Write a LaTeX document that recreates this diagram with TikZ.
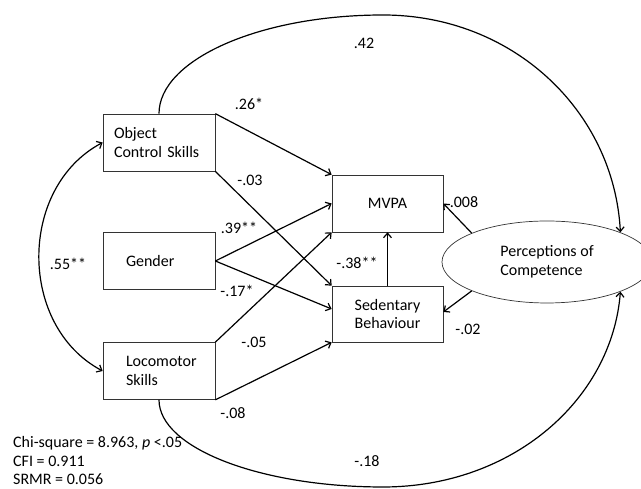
\documentclass[tikz,border=0pt]{standalone}
\usepackage{fontspec}
\setmainfont{Carlito}
\usetikzlibrary{arrows.meta,shapes.geometric}

\begin{document}
\begin{tikzpicture}
  [x=1pt,y=1pt,>={Straight Barb[length=4.5pt,width=8pt]},
   every node/.style={font=\fontsize{16}{18.5}\selectfont},
   box/.style={draw=black!80,line width=.7pt,minimum width=112pt,minimum height=57pt,inner sep=0pt},
   oval/.style={ellipse,draw=black!80,line width=.7pt,minimum width=210pt,minimum height=82pt,inner sep=0pt},
   lbl/.style={inner sep=0pt},
   link/.style={->,line width=1.2pt}]
  \useasboundingbox (0,0) rectangle (641,489);
  % boxes
  \node[box,text width=90pt,inner xsep=11pt,align=left] (ocs) at (159,346.5) {Object\\Control Skills};
  \node[box,text width=66pt,inner xsep=23pt,align=left] (gen) at (159,228) {Gender};
  \node[box,text width=66pt,inner xsep=23pt,align=left] (loc) at (159,118) {Locomotor\\Skills};
  \node[box,minimum width=111pt,align=center] (mvpa) at (387.5,285.5) {MVPA};
  \node[box,minimum width=111pt,minimum height=56pt,align=center] (sed) at (387.5,175) {Sedentary\\Behaviour};
  \node[oval,align=left] (perc) at (547,227) {Perceptions of\\Competence};
  % paths
  \foreach \from/\to in {ocs.north east/mvpa.north west,ocs.south east/sed.north west,gen.east/mvpa.west,loc.north east/mvpa.south west,loc.south east/sed.south west,sed.north/mvpa.south}
    \draw[link] (\from) -- (\to);
  \draw[link] (gen.east) -- ([yshift=5pt]sed.west);
  \draw[link] (perc.159) -- (mvpa.east);
  \draw[link] (perc.201) -- ([yshift=2pt]sed.east);
  \draw[link] (ocs.north) .. controls (159,429) and (259,474) .. (383,474)
    .. controls (513,474) and (614,378) .. (perc.22);
  \draw[link] (loc.south) .. controls (159,41) and (260,2) .. (383,2)
    .. controls (513,2) and (612,90) .. (perc.-22);
  \draw[link,<->] (ocs.west) .. controls (18,301.5) and (18,163) .. (loc.west);
  % coefficients
  \node[lbl] (l42) at (364,446) {.42};
  \node[lbl] (l26) at (249,385) {.26*};
  \node[lbl] (l03) at (250,309) {-.03};
  \node[lbl] (l39) at (239,261) {.39**};
  \node[lbl] (l17) at (237,198) {-.17*};
  \node[lbl] (l05) at (254,147) {-.05};
  \node[lbl] (l08) at (233,76) {-.08};
  \node[lbl] (l38) at (357,226) {-.38**};
  \node[lbl] (l008) at (464,287) {.008};
  \node[lbl] (l02) at (468,160) {-.02};
  \node[lbl] (l18) at (367,28) {-.18};
  \node[lbl] (l55) at (68,225) {.55**};
  % fit
  \node[lbl,anchor=west] (chi) at (13,46) {Chi-square = 8.963, \emph{p} <.05};
  \node[lbl,anchor=west] (cfi) at (13,28) {CFI = 0.911};
  \node[lbl,anchor=west] (srmr) at (13,10) {SRMR = 0.056};
\end{tikzpicture}
\end{document}
